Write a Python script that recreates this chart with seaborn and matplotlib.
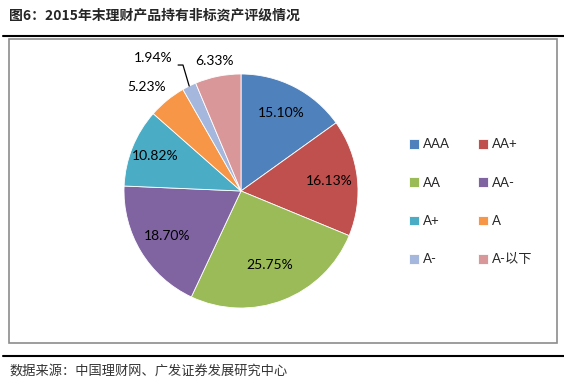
import numpy as np
import matplotlib
matplotlib.use('Agg')
import matplotlib.pyplot as plt
import seaborn as sns
from matplotlib.lines import Line2D

sns.set_theme(style='white')
plt.rcParams['font.family'] = ['Lato', 'Noto Sans CJK SC', 'DejaVu Sans']

# 数据
ratings = ['AAA', 'AA+', 'AA', 'AA-', 'A+', 'A', 'A-', 'A-以下']
shares = [15.10, 16.13, 25.75, 18.70, 10.82, 5.23, 1.94, 6.33]
colors = ['#4F81BD', '#C0504D', '#9BBB59', '#8064A2', '#4BACC6', '#F79646', '#A5B7DC', '#D9979A']
label_dist = [0.75, 0.76, 0.68, 0.74, 0.79, 1.2, 1.35, 1.13]

title = '图6：2015年末理财产品持有非标资产评级情况'
source = '数据来源：中国理财网、广发证券发展研究中心'

W, H = 564, 387
fig = plt.figure(figsize=(W / 100, H / 100), dpi=100)

# 外框和分隔线
fig.add_artist(Line2D([3 / W, 1], [1 - 36 / H] * 2, color='black', lw=1.5))
fig.add_artist(Line2D([3 / W, 1], [1 - 356 / H] * 2, color='black', lw=1.5))
fig.add_artist(plt.Rectangle((9 / W, 1 - 343 / H), 548 / W, 304 / H, fill=False,
                             edgecolor='#8c8c8c', lw=1.2, transform=fig.transFigure))

cx, cy, r = 241, 191, 117
ax = fig.add_axes([(cx - r) / W, 1 - (cy + r) / H, 2 * r / W, 2 * r / H])
wedges, _ = ax.pie(shares, colors=colors, startangle=90, counterclock=False,
                   wedgeprops=dict(edgecolor='white', linewidth=0.6))
ax.set_xlim(-1, 1)
ax.set_ylim(-1, 1)
ax.axis('off')

for w, val, d, name in zip(wedges, shares, label_dist, ratings):
    ang = np.deg2rad((w.theta1 + w.theta2) / 2)
    if name == 'A':
        ang += np.deg2rad(3)
    x, y = d * np.cos(ang), d * np.sin(ang)
    if name == 'A-':
        # 引导线
        x0, y0 = np.cos(ang), np.sin(ang)
        ax.plot([x0, x0 - 0.053, x0 - 0.095], [y0, y0 + 0.18, y0 + 0.18],
                color='black', lw=0.9, clip_on=False)
        ax.text(x0 - 0.14, y0 + 0.24, f'{val:.2f}%', ha='right', va='center',
                fontsize=10, color='black')
    else:
        ax.text(x, y, f'{val:.2f}%', ha='center', va='center', fontsize=10, color='black')

# 图例按行排列
order = [0, 2, 4, 6, 1, 3, 5, 7]
fig.legend([wedges[i] for i in order], [ratings[i] for i in order], loc='upper left',
           bbox_to_anchor=(404 / W, 1 - 133 / H),
           ncol=2, frameon=False, fontsize=9.5, handlelength=0.75, handleheight=0.75,
           handletextpad=0.3, labelspacing=2.0, columnspacing=2.1, borderaxespad=0)

fig.text(9 / W, 1 - 16 / H, title, fontsize=10, fontweight='bold', va='center', ha='left',
         family=['Noto Sans CJK SC'])
fig.text(9 / W, 1 - 371 / H, source, fontsize=9.5, va='center', ha='left', color='#333333',
         family=['Noto Sans CJK SC'])

fig.savefig('out.png', dpi=100, facecolor='white')
